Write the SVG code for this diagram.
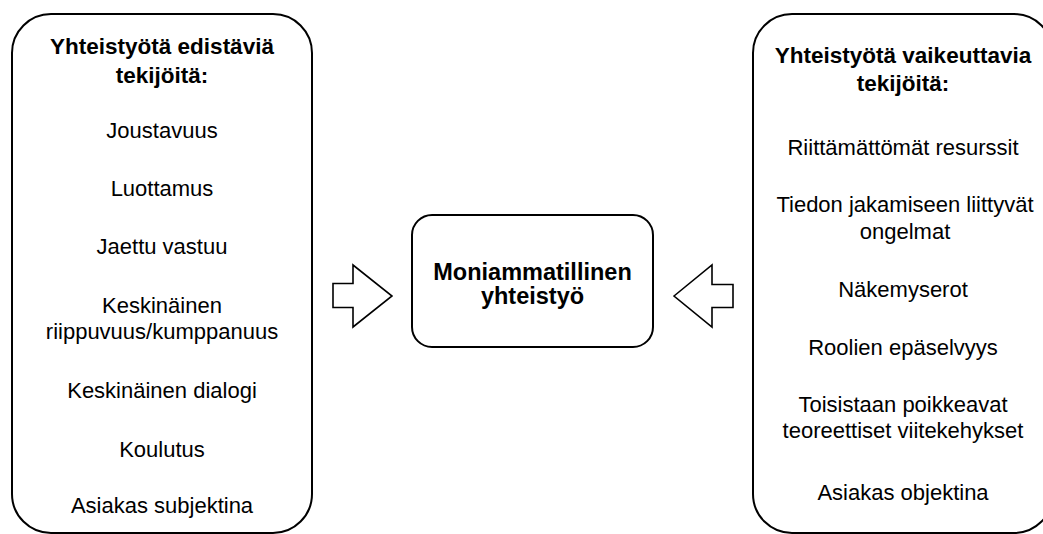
<svg xmlns="http://www.w3.org/2000/svg" width="1043" height="534" viewBox="0 0 1043 534">
<style>
.box{fill:#fff;stroke:#000;stroke-width:2}
.arr{fill:#fff;stroke:#000;stroke-width:1.6;stroke-linejoin:miter}
text{font-family:"Liberation Sans",Arial,Helvetica,sans-serif;fill:#000;text-anchor:middle}
.t{font-size:22px}
.b{font-size:22.5px;font-weight:bold}
.c{font-size:23.5px;font-weight:bold}
</style>
<rect width="1043" height="534" fill="#fff"/>
<g id="connectors">
<polygon class="arr" points="333,283.5 353,283.5 353,265 392,296 353,327 353,307.5 333,307.5"/>
<polygon class="arr" points="674,296 712,265 712,284.5 733,284.5 733,307.5 712,307.5 712,327"/>
</g>
<g id="left">
<rect class="box" x="12" y="14" width="300" height="519" rx="39" ry="39"/>
<text class="b" x="162" y="54">Yhteistyötä edistäviä</text>
<text class="b" x="162" y="83">tekijöitä:</text>
<text class="t" x="162" y="138">Joustavuus</text>
<text class="t" x="162" y="196">Luottamus</text>
<text class="t" x="162" y="254">Jaettu vastuu</text>
<text class="t" x="162" y="313">Keskinäinen</text>
<text class="t" x="162" y="339">riippuvuus/kumppanuus</text>
<text class="t" x="162" y="398">Keskinäinen dialogi</text>
<text class="t" x="162" y="457">Koulutus</text>
<text class="t" x="162" y="513">Asiakas subjektina</text>
</g>
<g id="center">
<rect class="box" x="412" y="215" width="241" height="132" rx="20" ry="20"/>
<text class="c" x="532.5" y="280">Moniammatillinen</text>
<text class="c" x="532.5" y="304">yhteistyö</text>
</g>
<g id="right">
<rect class="box" x="753" y="14" width="300" height="519" rx="39" ry="39"/>
<text class="b" x="903" y="63">Yhteistyötä vaikeuttavia</text>
<text class="b" x="903" y="91">tekijöitä:</text>
<text class="t" x="903" y="155">Riittämättömät resurssit</text>
<text class="t" x="905" y="212">Tiedon jakamiseen liittyvät</text>
<text class="t" x="905" y="239">ongelmat</text>
<text class="t" x="903" y="297">Näkemyserot</text>
<text class="t" x="903" y="355">Roolien epäselvyys</text>
<text class="t" x="903" y="412">Toisistaan poikkeavat</text>
<text class="t" x="903" y="438">teoreettiset viitekehykset</text>
<text class="t" x="903" y="500">Asiakas objektina</text>
</g>
</svg>
